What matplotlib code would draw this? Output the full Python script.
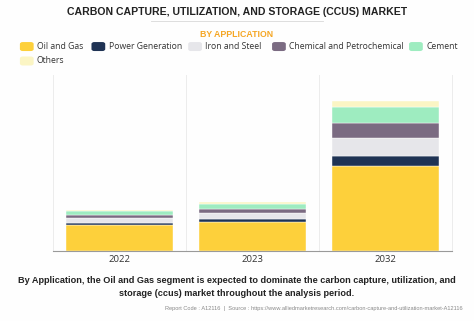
import numpy as np
import matplotlib.pyplot as plt
from matplotlib.patches import FancyBboxPatch

years = ["2022", "2023", "2032"]
segments = ["Oil and Gas", "Power Generation", "Iron and Steel",
            "Chemical and Petrochemical", "Cement", "Others"]
oil_gas = [26, 29, 85]
power_gen = [2.5, 3, 10]
iron_steel = [5, 6, 18]
chemical = [3, 4, 15]
cement = [4, 5, 16]
others = [1, 2, 6]
colors = ["#fdd03b", "#1f3354", "#e6e6ea", "#7b6b82", "#9eecc0", "#fbf5c4"]

fig = plt.figure(figsize=(4.74, 3.21), dpi=100)
fig.patch.set_facecolor("#fefefe")

fig.text(0.5, 0.962, "CARBON CAPTURE, UTILIZATION, AND STORAGE (CCUS) MARKET",
         ha="center", va="center", fontsize=7.6, fontweight="bold",
         color="#222222", family="Liberation Sans")
fig.add_artist(plt.Line2D([0.318, 0.682], [0.934, 0.934], color="#d8d8d8", lw=0.6))
fig.text(0.5, 0.893, "BY APPLICATION", ha="center", va="center", fontsize=6.3,
         fontweight="bold", color="#f5a623", family="Liberation Sans")

# legend, two rows
legend_rows = [(0.855, segments[:5], colors[:5]), (0.810, segments[5:], colors[5:])]
lx_positions = [[0.042, 0.193, 0.397, 0.574, 0.863], [0.042]]
for (ly, labs, cols), xs in zip(legend_rows, lx_positions):
    for x, lab, c in zip(xs, labs, cols):
        fig.add_artist(FancyBboxPatch((x, ly - 0.014), 0.029, 0.028,
                                      boxstyle="round,pad=0,rounding_size=0.006",
                                      transform=fig.transFigure, fc=c, ec="none"))
        fig.text(x + 0.036, ly, lab, ha="left", va="center", fontsize=6.2,
                 color="#333333", family="Open Sans")

ax = fig.add_axes([0.112, 0.218, 0.842, 0.548])
ax.set_facecolor("#fefefe")
x = np.arange(len(years))
bottom = np.zeros(len(years))
for vals, c in zip([oil_gas, power_gen, iron_steel, chemical, cement, others], colors):
    ax.bar(x, vals, width=0.8, bottom=bottom, color=c, edgecolor="white", linewidth=0.3)
    bottom += np.array(vals)

ax.set_xlim(-0.5, 2.5)
ax.set_ylim(0, 176)
ax.set_yticks([])
ax.set_xticks(x)
ax.set_xticklabels(years, fontsize=6.8, color="#333333", family="Open Sans")
ax.tick_params(axis="x", length=0, pad=3)
for xv in [0.5, 1.5]:
    ax.axvline(xv, color="#ececec", lw=0.7, zorder=0)
for s in ["left", "right"]:
    ax.spines[s].set_color("#ececec")
    ax.spines[s].set_linewidth(0.7)
ax.spines["top"].set_visible(False)
ax.spines["bottom"].set_color("#9a9a9a")
ax.spines["bottom"].set_linewidth(0.8)

fig.text(0.5, 0.125, "By Application, the Oil and Gas segment is expected to dominate the carbon capture, utilization, and",
         ha="center", va="center", fontsize=6.6, fontweight="bold", color="#222222", family="Liberation Sans")
fig.text(0.5, 0.086, "storage (ccus) market throughout the analysis period.",
         ha="center", va="center", fontsize=6.6, fontweight="bold", color="#222222", family="Liberation Sans")
fig.text(0.975, 0.039, "Report Code : A12116  |  Source : https://www.alliedmarketresearch.com/carbon-capture-and-utilization-market-A12116",
         ha="right", va="center", fontsize=4.1, color="#888888", family="Liberation Sans")

fig.savefig("out.png", dpi=100, facecolor=fig.get_facecolor())
